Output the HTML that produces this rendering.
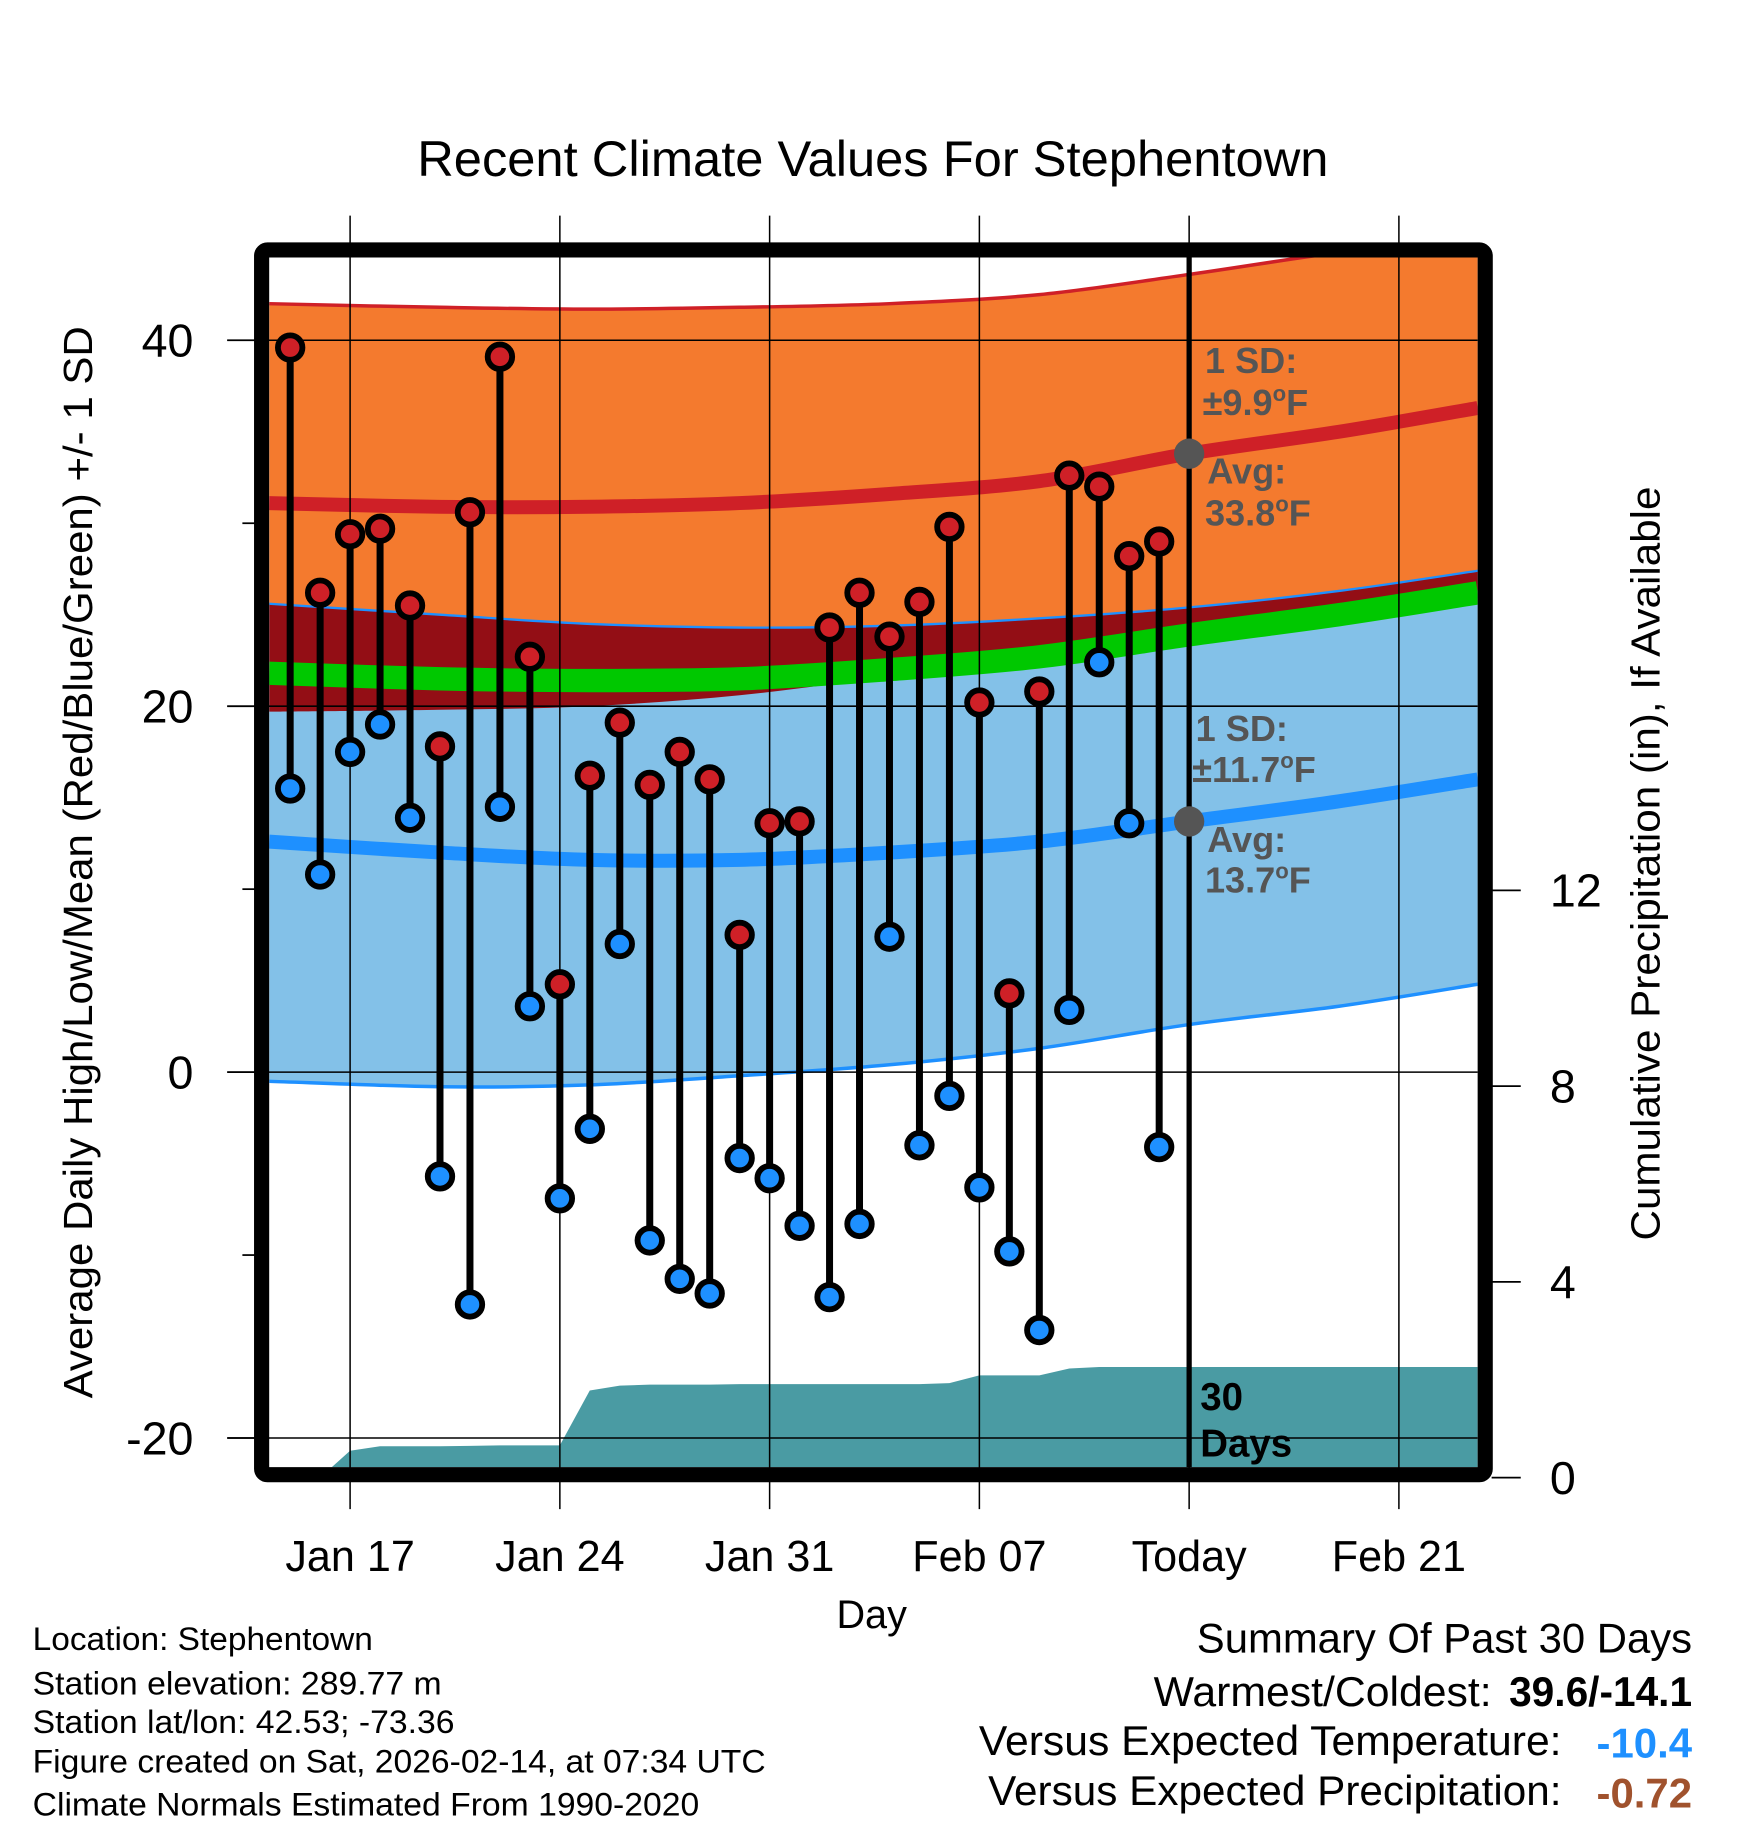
<!DOCTYPE html>
<html><head><meta charset="utf-8"><style>html,body{margin:0;padding:0;background:#fff}svg{display:block}text{font-family:"Liberation Sans",Arial,sans-serif}</style></head>
<body>
<svg id="chart" width="1748" height="1828" viewBox="0 0 1500 1568.65" preserveAspectRatio="none" xmlns="http://www.w3.org/2000/svg">
<defs><clipPath id="plotclip"><rect x="231" y="221" width="1037" height="1038"/></clipPath></defs>
<text x="749" y="151" font-size="43" text-anchor="middle" textLength="782" lengthAdjust="spacingAndGlyphs">Recent Climate Values For Stephentown</text>
<g id="bands" clip-path="url(#plotclip)"></g>
<g id="precip" clip-path="url(#plotclip)"></g>
<g id="grid"></g>
<g id="annot"></g>
<g id="marks"></g>
<rect x="224.5" y="214.5" width="1050" height="1051" fill="none" stroke="#000" stroke-width="13" rx="5"/>
<g id="axes"></g>
<text transform="translate(79,740) rotate(-90)" font-size="35" text-anchor="middle" textLength="920" lengthAdjust="spacingAndGlyphs">Average Daily High/Low/Mean (Red/Blue/Green) +/- 1 SD</text>
<text transform="translate(1424,741) rotate(-90)" font-size="35" text-anchor="middle" textLength="647" lengthAdjust="spacingAndGlyphs">Cumulative Precipitation (in), If Available</text>
<text x="748" y="1397" font-size="34" text-anchor="middle">Day</text>
<g font-size="28">
<text x="28" y="1416" textLength="292" lengthAdjust="spacingAndGlyphs">Location: Stephentown</text>
<text x="28" y="1454" textLength="351" lengthAdjust="spacingAndGlyphs">Station elevation: 289.77 m</text>
<text x="28" y="1487" textLength="362" lengthAdjust="spacingAndGlyphs">Station lat/lon: 42.53; -73.36</text>
<text x="28" y="1521" textLength="629" lengthAdjust="spacingAndGlyphs">Figure created on Sat, 2026-02-14, at 07:34 UTC</text>
<text x="28" y="1558" textLength="572" lengthAdjust="spacingAndGlyphs">Climate Normals Estimated From 1990-2020</text>
</g>
<g font-size="36">
<text x="1452" y="1418" text-anchor="end" textLength="425" lengthAdjust="spacingAndGlyphs">Summary Of Past 30 Days</text>
<text x="1280" y="1464" text-anchor="end" textLength="290" lengthAdjust="spacingAndGlyphs">Warmest/Coldest:</text>
<text x="1452" y="1464" text-anchor="end" font-weight="bold" textLength="157" lengthAdjust="spacingAndGlyphs">39.6/-14.1</text>
<text x="1340" y="1506" text-anchor="end" textLength="500" lengthAdjust="spacingAndGlyphs">Versus Expected Temperature:</text>
<text x="1452" y="1508" text-anchor="end" font-weight="bold" fill="#1e90ff" textLength="82" lengthAdjust="spacingAndGlyphs">-10.4</text>
<text x="1340" y="1549" text-anchor="end" textLength="492" lengthAdjust="spacingAndGlyphs">Versus Expected Precipitation:</text>
<text x="1452" y="1551" text-anchor="end" font-weight="bold" fill="#a0522d" textLength="82" lengthAdjust="spacingAndGlyphs">-0.72</text>
</g>
</svg>
<script>
// Data (day 0 = Jan 15)
const highs = [39.6,26.2,29.4,29.7,25.5,17.8,30.6,39.1,22.7,4.8,16.2,19.1,15.7,17.5,16.0,7.5,13.6,13.7,24.3,26.2,23.8,25.7,29.8,20.2,4.3,20.8,32.6,32.0,28.2,29.0];
const lows = [15.5,10.8,17.5,19.0,13.9,-5.7,-12.7,14.5,3.6,-6.9,-3.1,7.0,-9.2,-11.3,-12.1,-4.7,-5.8,-8.4,-12.3,-8.3,7.4,-4.0,-1.3,-6.3,-9.8,-14.1,3.4,22.4,13.6,-4.1];
const precipCum = [0,0,0.55,0.64,0.64,0.64,0.65,0.66,0.66,0.66,1.78,1.88,1.90,1.90,1.90,1.91,1.91,1.91,1.91,1.91,1.91,1.91,1.93,2.09,2.09,2.09,2.23,2.26,2.26,2.26];
const normDays = [-0.7,5,10,15,20,25,30,35,39.63];
const highUpper = [42.0,41.8,41.7,41.8,42.0,42.5,43.6,44.8,45.6];
const highMean = [31.1,30.9,30.9,31.1,31.6,32.3,33.8,35.0,36.3];
const highLower = [25.6,25.0,24.5,24.3,24.4,24.8,25.4,26.3,27.4];
const darkBottom = [19.7,19.8,20.0,20.6,21.6,22.4,23.6,24.7,25.9];
const greenMean = [21.8,21.5,21.4,21.5,22.0,22.7,23.9,25.0,26.2];
const lowMean = [12.6,12.0,11.6,11.6,12.0,12.6,13.7,14.8,16.0];
const lowLower = [-0.5,-0.8,-0.7,-0.2,0.4,1.3,2.6,3.6,4.8];
const xTickDays = [2,9,16,23,30,37];
const xTickLabels = ["Jan 17","Jan 24","Jan 31","Feb 07","Today","Feb 21"];
const yTicks = [40,20,0,-20];
const yMinor = [30,10,-10];
const y2Ticks = [0,4,8,12];

const NS="http://www.w3.org/2000/svg";
const X = d => 249 + d*180/7;
const Y = v => 920 - v*15.7;
const YP = v => 1268 - v*42;
function mk(tag, attrs, parent){const e=document.createElementNS(NS,tag);for(const k in attrs)e.setAttribute(k,attrs[k]);parent.appendChild(e);return e;}
function pts(days, vals){return days.map((d,i)=>[X(d),Y(vals[i])]);}
// smooth curve path through points (catmull-rom -> bezier)
function smooth(p){let s="M"+p[0][0].toFixed(1)+","+p[0][1].toFixed(1);for(let i=0;i<p.length-1;i++){const p0=p[Math.max(i-1,0)],p1=p[i],p2=p[i+1],p3=p[Math.min(i+2,p.length-1)];const c1=[p1[0]+(p2[0]-p0[0])/6,p1[1]+(p2[1]-p0[1])/6],c2=[p2[0]-(p3[0]-p1[0])/6,p2[1]-(p3[1]-p1[1])/6];s+=" C"+c1[0].toFixed(1)+","+c1[1].toFixed(1)+" "+c2[0].toFixed(1)+","+c2[1].toFixed(1)+" "+p2[0].toFixed(1)+","+p2[1].toFixed(1);}return s;}
function band(top, bot){const b=pts(normDays,bot).reverse();return smooth(pts(normDays,top))+" L"+smooth(b).slice(1)+" Z";}

const bands=document.getElementById('bands');
let e;
e=mk('path',{d:band(highLower,lowLower),fill:'#83c1e8'},bands);


e=mk('path',{d:band(highUpper,highLower),fill:'#f47a2e'},bands);


e=mk('path',{d:band(highLower,darkBottom),fill:'#930e15'},bands);


const lineSpecs=[[greenMean,'#00c800',20,'mean-line'],[highMean,'#cf2027',12,'high-mean-line'],[lowMean,'#1e90ff',12,'low-mean-line'],[highUpper,'#cf2027',3,'high-upper-line'],[highLower,'#1e90ff',2,'high-lower-line'],[lowLower,'#1e90ff',3,'low-lower-line']];
lineSpecs.forEach(s=>{
  e=mk('path',{d:smooth(pts(normDays,s[0])),fill:'none',stroke:s[1],'stroke-width':s[2]},bands);
  
  
});

// precipitation
const pr=document.getElementById('precip');
let pd="M"+X(1.2)+",1268";
precipCum.forEach((v,i)=>{pd+=" L"+X(i).toFixed(1)+","+YP(v).toFixed(1);});
pd+=" L1268,"+YP(precipCum[precipCum.length-1]).toFixed(1)+" L1268,1268 Z";
e=mk('path',{d:pd,fill:'#4a9ba3'},pr);



const grid=document.getElementById('grid');
xTickDays.forEach((d,i)=>{
  e=mk('line',{x1:X(d),x2:X(d),y1:185,y2:1295,stroke:'#000','stroke-width':1.3},grid);
  
  
});
yTicks.forEach(v=>{
  e=mk('line',{x1:195,x2:1268,y1:Y(v),y2:Y(v),stroke:'#000','stroke-width':1.3},grid);
  
  
});
e=mk('line',{x1:X(30),x2:X(30),y1:221,y2:1259,stroke:'#000','stroke-width':4.5},grid);



// annotations
const an=document.getElementById('annot');
function atext(x,y,str,name){const t=mk('text',{x:x,y:y,'font-size':31,'font-weight':'bold',fill:'#555'},an);t.innerHTML=str;}
atext(1034,320,"1 SD:","high-sd-label");
atext(1032,356,"±9.9<tspan dy='-12' font-size='19'>o</tspan><tspan dy='12'>F</tspan>","high-sd-value");
atext(1036,415,"Avg:","high-avg-label");
atext(1034,451,"33.8<tspan dy='-12' font-size='19'>o</tspan><tspan dy='12'>F</tspan>","high-avg-value");
atext(1026,636,"1 SD:","low-sd-label");
atext(1023,671,"±11.7<tspan dy='-12' font-size='19'>o</tspan><tspan dy='12'>F</tspan>","low-sd-value");
atext(1036,731,"Avg:","low-avg-label");
atext(1034,766,"13.7<tspan dy='-12' font-size='19'>o</tspan><tspan dy='12'>F</tspan>","low-avg-value");
e=mk('circle',{cx:X(30),cy:Y(33.8),r:13,fill:'#555'},an);


e=mk('circle',{cx:X(30),cy:Y(13.7),r:13,fill:'#555'},an);


const dt=mk('text',{x:1030,y:1210,'font-size':33,'font-weight':'bold'},an);
dt.innerHTML="30<tspan x='1030' dy='40'>Days</tspan>";



// marks
const mg=document.getElementById('marks');
highs.forEach((h,i)=>{
  const x=X(i);
  e=mk('line',{x1:x,x2:x,y1:Y(h),y2:Y(lows[i]),stroke:'#000','stroke-width':6},mg);
  
  
});
highs.forEach((h,i)=>{
  const x=X(i);
  e=mk('circle',{cx:x,cy:Y(h),r:10.5,fill:'#cf2027',stroke:'#000','stroke-width':5},mg);
  
  
  e=mk('circle',{cx:x,cy:Y(lows[i]),r:10.5,fill:'#1e90ff',stroke:'#000','stroke-width':5},mg);
  
  
});

// axes
const ax=document.getElementById('axes');
yTicks.forEach(v=>{
  e=mk('line',{x1:195,x2:220,y1:Y(v),y2:Y(v),stroke:'#000','stroke-width':1.5},ax);
  
  
  const t=mk('text',{x:166,y:Y(v)+14,'font-size':40,'text-anchor':'end'},ax);
  t.textContent=String(v);
  
  
});
yMinor.forEach(v=>{
  e=mk('line',{x1:208,x2:220,y1:Y(v),y2:Y(v),stroke:'#000','stroke-width':1.5},ax);
  
  
});
y2Ticks.forEach(v=>{
  e=mk('line',{x1:1280,x2:1305,y1:YP(v),y2:YP(v),stroke:'#000','stroke-width':1.5},ax);
  
  
  const t=mk('text',{x:1330,y:YP(v)+14,'font-size':40},ax);
  t.textContent=String(v);
  
  
});
xTickDays.forEach((d,i)=>{
  const t=mk('text',{x:X(d),y:1348,'font-size':37,'text-anchor':'middle'},ax);
  t.textContent=xTickLabels[i];
  
  
});
</script>
</body></html>
